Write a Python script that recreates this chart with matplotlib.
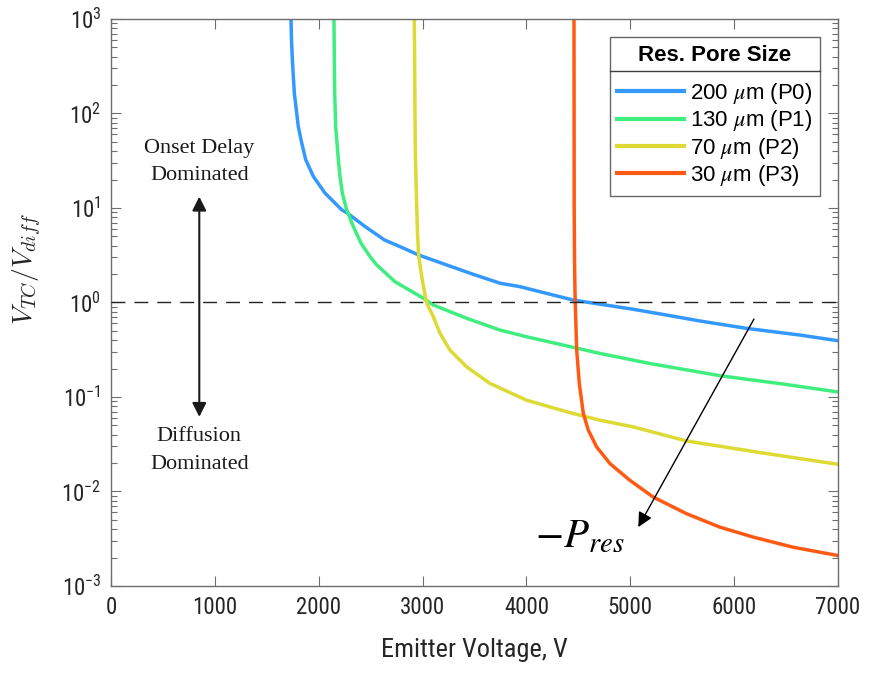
import numpy as np
import matplotlib
matplotlib.use('Agg')
import matplotlib.pyplot as plt
from matplotlib import font_manager
from matplotlib.lines import Line2D
from matplotlib.ticker import LogLocator, NullFormatter

# V_TC / V_diff against emitter voltage, one curve per reservoir pore size
v_p0 = [1733, 1738, 1746, 1765, 1803, 1836, 1875, 1948, 2060, 2221, 2275, 2446, 2631, 2815,
        2959, 3457, 3745, 3938, 4451, 4708, 5029, 5350, 5671, 6121, 6634, 7000]
r_p0 = [1000, 600, 373, 165, 73.2, 48.8, 32.4, 21.6, 14.4, 9.57, 8.83, 6.37, 4.60, 3.76,
        3.19, 2.04, 1.60, 1.47, 1.06, 0.96, 0.847, 0.736, 0.637, 0.532, 0.452, 0.394]

v_p1 = [2147, 2150, 2154, 2163, 2189, 2205, 2227, 2269, 2333, 2407, 2494, 2558, 2734, 3007,
        3104, 3425, 3745, 4000, 4708, 5190, 5863, 6473, 7000]
r_p1 = [1000, 373, 165, 73.2, 32.4, 21.6, 14.4, 9.57, 6.37, 4.24, 3.06, 2.50, 1.66, 1.11,
        0.94, 0.68, 0.511, 0.434, 0.289, 0.226, 0.168, 0.137, 0.113]

v_p2 = [2920, 2924, 2927, 2930, 2937, 2941, 2946, 2951, 2962, 2975, 3000, 3030, 3048, 3104,
        3168, 3264, 3425, 3649, 4002, 4226, 4451, 4708, 5029, 5543, 6313, 7000]
r_p2 = [1000, 330, 97, 43, 19.1, 13, 8.5, 5.4, 3.19, 2.5, 1.66, 1.1, 0.94, 0.707,
        0.471, 0.313, 0.208, 0.139, 0.0925, 0.0785, 0.0668, 0.0568, 0.0482, 0.0342, 0.0252, 0.0194]

v_p3 = [4458, 4459, 4460, 4463, 4466, 4470, 4484, 4509, 4548, 4596, 4676, 4805, 4997,
        5221, 5543, 5864, 6184, 6569, 7000]
r_p3 = [1000, 100, 10, 3, 1.66, 1.0, 0.314, 0.139, 0.0668, 0.0445, 0.0296, 0.0197, 0.0131,
        0.00873, 0.00581, 0.00419, 0.00329, 0.00257, 0.0021]

series_v = [v_p0, v_p1, v_p2, v_p3]
series_r = [r_p0, r_p1, r_p2, r_p3]
series_labels = ['200 $\\mu$m (P0)', '130 $\\mu$m (P1)', '70 $\\mu$m (P2)', '30 $\\mu$m (P3)']
colors = ['#3399FF', '#40EE80', '#DDDA33', '#FF5A14']

installed = {f.name for f in font_manager.fontManager.ttflist}
tick_font = 'Liberation Sans'
for cand in ['Liberation Sans Narrow', 'Roboto Condensed']:
    if cand in installed:
        tick_font = cand
        break

plt.rcParams['font.family'] = tick_font
plt.rcParams['mathtext.fontset'] = 'custom'
plt.rcParams['mathtext.rm'] = tick_font
plt.rcParams['mathtext.it'] = tick_font + ':italic'

fig = plt.figure(figsize=(8.7, 6.73), dpi=100)
ax = fig.add_axes([0.1276, 0.1293, 0.8356, 0.8425])

for v, r, lab, c in zip(series_v, series_r, series_labels, colors):
    ax.plot(v, r, color=c, lw=2.5, label=lab, solid_joinstyle='round')

ax.axhline(1, color='#222222', lw=1.0, dashes=(10, 6.5), zorder=5)

ax.set_yscale('log')
ax.set_xlim(0, 7000)
ax.set_ylim(1e-3, 1e3)
ax.set_xticks(np.arange(0, 7001, 1000))
ax.yaxis.set_major_locator(LogLocator(base=10, numticks=10))
ax.yaxis.set_minor_locator(LogLocator(base=10, subs=np.arange(2, 10), numticks=10))
ax.yaxis.set_minor_formatter(NullFormatter())

spine_c = '#6E6E6E'
for s in ax.spines.values():
    s.set_color(spine_c)
    s.set_linewidth(1.0)
ax.tick_params(which='both', direction='in', top=True, right=True, color=spine_c,
               labelcolor='#262626', labelsize=16.5)
ax.tick_params(which='major', length=7, width=0.8, pad=7)
ax.tick_params(which='minor', length=4, width=0.8)

ax.set_xlabel('Emitter Voltage, V', fontsize=19, color='#262626', labelpad=14)
ax.set_ylabel('$V_{TC}/V_{diff}$', fontsize=20, color='#262626',
              math_fontfamily='cm')
ax.yaxis.set_label_coords(-0.092, 0.559)

# regime arrow and labels
ax.annotate('', xy=(850, 13.2), xytext=(850, 0.0615),
            arrowprops=dict(arrowstyle='<|-|>', color='#1A1A1A', lw=1.5,
                            mutation_scale=21, shrinkA=0, shrinkB=0), zorder=6)
ax.text(850, 30.5, 'Onset Delay\nDominated', ha='center', va='center',
        family='Liberation Serif', fontsize=16, color='#1A1A1A', linespacing=1.6)
ax.text(850, 0.0272, 'Diffusion\nDominated', ha='center', va='center',
        family='Liberation Serif', fontsize=16, color='#1A1A1A', linespacing=1.6)

# decreasing reservoir pore pressure direction
ax.annotate('', xy=(5077, 0.0042), xytext=(6191, 0.668),
            arrowprops=dict(arrowstyle='-|>', color='black', lw=1.0,
                            mutation_scale=22, shrinkA=0, shrinkB=0))
ax.text(4080, 0.00255, '$-P_{res}$', ha='left', va='baseline', fontsize=29.5,
        math_fontfamily='stix', color='black')

leg_font = font_manager.FontProperties(family='Liberation Sans', size=16,
                                       math_fontfamily='stix')
leg = ax.legend(loc='upper right', bbox_to_anchor=(0.975, 0.968), prop=leg_font,
                title='Res. Pore Size', frameon=True, fancybox=False,
                handlelength=3.0, handletextpad=0.25, labelspacing=0.1,
                borderpad=0.35, borderaxespad=0)
leg.get_title().set_fontproperties(font_manager.FontProperties(
    family='Liberation Sans', size=16, weight='bold'))
leg._legend_box.sep = 11
leg.get_frame().set_edgecolor('#404040')
leg.get_frame().set_linewidth(1.0)
for h in leg.get_lines():
    h.set_linewidth(3)

# rule under the legend title
fig.canvas.draw()
rend = fig.canvas.get_renderer()
lb = leg.get_window_extent(rend)
tb = leg.get_title().get_window_extent(rend)
inv = fig.transFigure.inverted()
(x0, ysep), (x1, _) = inv.transform([(lb.x0, tb.y0 - 5), (lb.x1, tb.y0 - 5)])
fig.add_artist(Line2D([x0, x1], [ysep, ysep], transform=fig.transFigure,
                      color='#404040', lw=1.0, zorder=10))

fig.savefig('out.png', dpi=100)
